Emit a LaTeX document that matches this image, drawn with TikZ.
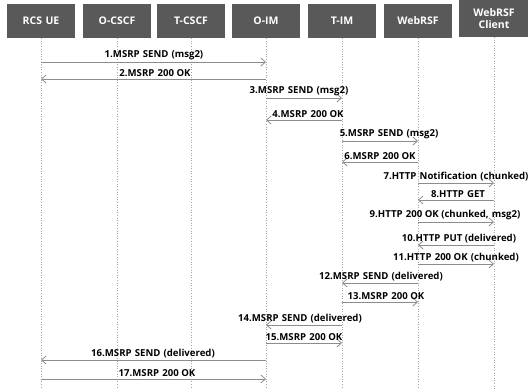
\documentclass[tikz,border=0pt]{standalone}
\usepackage{fontspec}
\setmainfont{Open Sans}[BoldFont={* Bold}]
\usetikzlibrary{arrows.meta}
\definecolor{boxgray}{HTML}{595959}
\definecolor{linegray}{HTML}{8C8C8C}
\definecolor{lifegray}{HTML}{A6A6A6}
\tikzset{
  actor/.style={fill=boxgray, draw=none, text=white, minimum width=68pt, minimum height=34pt,
    inner sep=1pt, align=center, font=\fontsize{10.5}{12}\selectfont\bfseries},
  life/.style={draw=lifegray, line width=0.6pt, dotted},
  msg/.style={draw=linegray, line width=0.8pt, -{Straight Barb[length=4.5pt,width=8pt]}},
  lbl/.style={anchor=south, inner sep=1pt, text=black, font=\fontsize{9.6}{11}\selectfont\bfseries}
}
\begin{document}
\begin{tikzpicture}[x=1pt,y=-1pt]
\useasboundingbox (0,0) rectangle (528,389);
\node[actor] (ue)  at (41,21)  {RCS\,\,UE};
\node[actor] (oc)  at (117,21) {O-CSCF};
\node[actor] (tc)  at (191,21) {T-CSCF};
\node[actor] (oim) at (266,21) {O-IM};
\node[actor] (tim) at (342,21) {T-IM};
\node[actor] (rsf) at (418,21) {WebRSF};
\node[actor, minimum width=70pt, minimum height=37pt] (cli) at (494,18.5) {WebRSF\\Client};
\foreach \n in {ue,oc,tc,oim,tim,rsf,cli}
  \draw[life] (\n.south) -- (\n.south |- 0,389);
\foreach \a/\b/\y/\lx/\t in {
  ue/oim/62/154/{1.MSRP\,\,SEND\,\,(msg2)},
  oim/ue/79/155/{2.MSRP\,\,200 OK},
  oim/tim/98/299/{3.MSRP\,\,SEND\,\,(msg2)},
  tim/oim/120/308/{4.MSRP\,\,200 OK},
  tim/rsf/141/389/{5.MSRP\,\,SEND\,\,(msg2)},
  rsf/tim/162/380/{6.MSRP\,\,200 OK},
  rsf/cli/183/456/{7.HTTP\,\,Notification\,\,(chunked)},
  cli/rsf/200/458/{8.HTTP\,\,GET},
  rsf/cli/222/445/{9.HTTP\,\,200 OK (chunked,\,\,msg2)},
  cli/rsf/245/459/{10.HTTP\,\,PUT (delivered)},
  rsf/cli/264/456/{11.HTTP\,\,200 OK\,\,(chunked)},
  rsf/tim/283/381/{12.MSRP\,\,SEND\,\,(delivered)},
  tim/rsf/302/386/{13.MSRP\,\,200 OK},
  tim/oim/325/300/{14.MSRP\,\,SEND\,\,(delivered)},
  oim/tim/343/304/{15.MSRP\,\,200 OK},
  oim/ue/360/153/{16.MSRP\,\,SEND\,\,(delivered)},
  ue/oim/379/157/{17.MSRP\,\,200 OK}}
  {
  \draw[msg] (\a |- 0,\y) -- (\b |- 0,\y);
  \node[lbl] (l\y) at (\lx,\y-1) {\t};
  }
\end{tikzpicture}
\end{document}
